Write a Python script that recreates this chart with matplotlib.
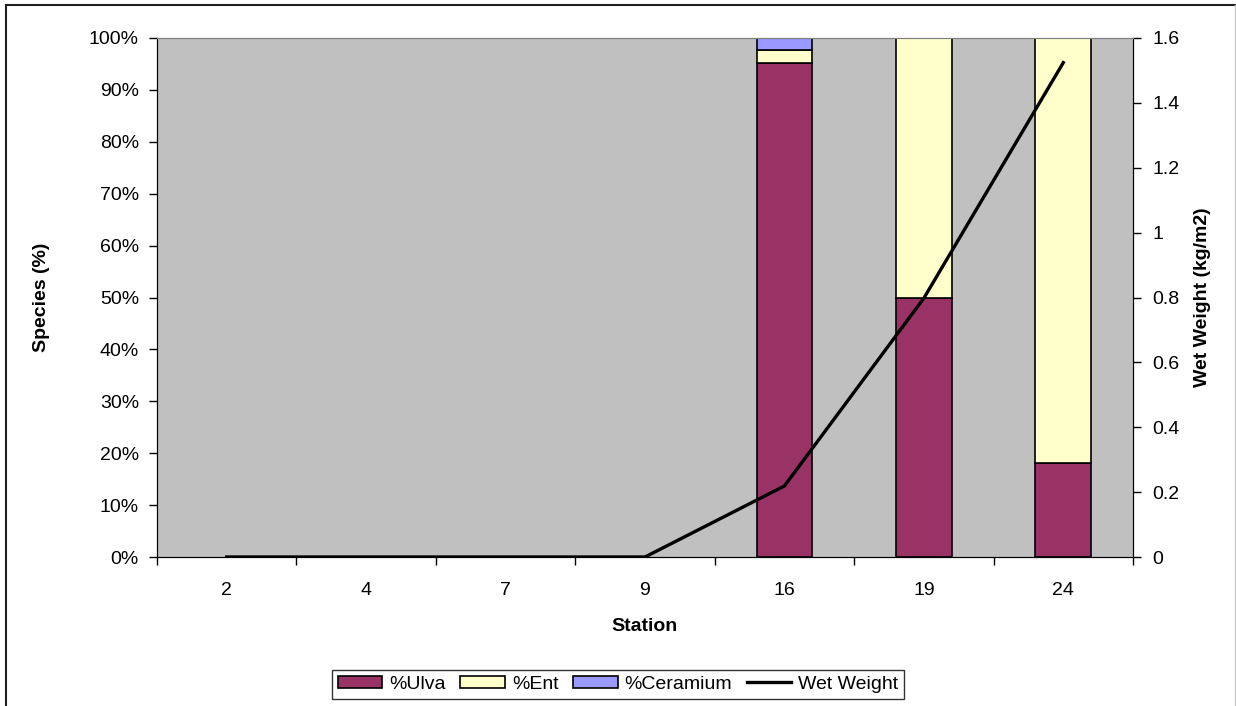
import matplotlib.pyplot as plt
import numpy as np
from matplotlib.lines import Line2D
from matplotlib.patches import Patch
from matplotlib.ticker import FixedLocator, PercentFormatter

plt.rcParams['font.family'] = ['Liberation Sans', 'DejaVu Sans']

stations = ['2', '4', '7', '9', '16', '19', '24']
pct_ulva = [0, 0, 0, 0, 95.1, 50.0, 18.1]
pct_ent = [0, 0, 0, 0, 2.6, 50.0, 81.9]
pct_ceramium = [0, 0, 0, 0, 2.3, 0, 0]
wet_weight = [0, 0, 0, 0, 0.219, 0.798, 1.524]

x = np.arange(len(stations))
width = 0.4
fs = 14
colors = {'%Ulva': '#993366', '%Ent': '#FFFFCC', '%Ceramium': '#9999FF'}

fig = plt.figure(figsize=(12.36, 7.06), dpi=100)
ax = fig.add_axes([157/1236, 149/706, 976/1236, 519/706])
ax.set_facecolor('#C0C0C0')

ulva = np.array(pct_ulva)
ent = np.array(pct_ent)
cer = np.array(pct_ceramium)


def edge_widths(vals):
    # no outline for empty segments
    return [1.2 if v > 0 else 0 for v in vals]


ax.bar(x, ulva, width=width, color=colors['%Ulva'], edgecolor='black',
       linewidth=edge_widths(ulva))
ax.bar(x, ent, bottom=ulva, width=width, color=colors['%Ent'], edgecolor='black',
       linewidth=edge_widths(ent))
ax.bar(x, cer, bottom=ulva + ent, width=width, color=colors['%Ceramium'], edgecolor='black',
       linewidth=edge_widths(cer))

ax.set_xlim(-0.5, len(stations) - 0.5)
ax.set_ylim(0, 100)
ax.set_yticks(np.arange(0, 101, 10))
ax.yaxis.set_major_formatter(PercentFormatter(decimals=0))
ax.set_xticks(x)
ax.set_xticklabels(stations)
ax.xaxis.set_minor_locator(FixedLocator(np.arange(-0.5, len(stations), 1)))
ax.tick_params(axis='x', which='major', length=0, pad=18, labelsize=fs)
ax.tick_params(axis='x', which='minor', length=6, width=1)
ax.tick_params(axis='y', length=6, width=1, labelsize=fs, pad=7)

ax.spines['top'].set_color('#808080')
for s in ['left', 'bottom', 'right']:
    ax.spines[s].set_color('black')

ax.set_xlabel('Station', fontsize=fs, fontweight='bold', labelpad=14)
ax.set_ylabel('Species (%)', fontsize=fs, fontweight='bold', labelpad=28)

# wet weight on the secondary axis
ax2 = ax.twinx()
ln, = ax2.plot(x, wet_weight, color='black', linewidth=2.4)
ax2.set_ylim(0, 1.6)
ax2.set_yticks(np.arange(0, 1.61, 0.2))
ax2.set_yticklabels(['0', '0.2', '0.4', '0.6', '0.8', '1', '1.2', '1.4', '1.6'])
ax2.tick_params(axis='y', length=6, width=1, labelsize=fs, pad=8)
ax2.set_ylabel('Wet Weight (kg/m2)', fontsize=fs, fontweight='bold', labelpad=10)
ax2.spines['top'].set_color('#808080')

handles = [Patch(facecolor=c, edgecolor='black', linewidth=1.2) for c in colors.values()]
handles.append(Line2D([], [], color='black', linewidth=2.4))
labels = list(colors.keys()) + ['Wet Weight']
leg = fig.legend(handles, labels, loc='lower center', bbox_to_anchor=(0.5, 0.005), ncol=4,
                 frameon=True, fancybox=False, edgecolor='black', fontsize=fs,
                 handlelength=2.3, handleheight=0.6, handletextpad=0.35,
                 columnspacing=0.75, borderpad=0.3, borderaxespad=0.2)
leg.get_frame().set_linewidth(1)

# outer chart border
fig.add_artist(Line2D([6/1236, 6/1236], [0, 701/706], transform=fig.transFigure, color='#202020', lw=1.5))
fig.add_artist(Line2D([6/1236, 1235/1236], [701/706, 701/706], transform=fig.transFigure, color='#202020', lw=1.5))
fig.add_artist(Line2D([1235/1236, 1235/1236], [0, 701/706], transform=fig.transFigure, color='#C8C8C8', lw=1))

fig.savefig('out.png', dpi=100)
